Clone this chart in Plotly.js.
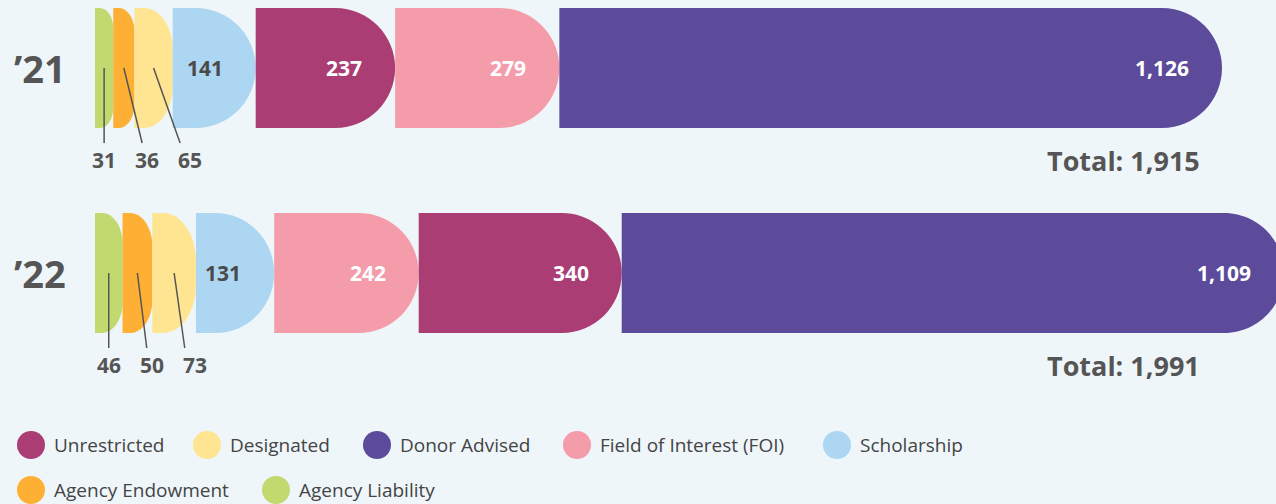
<!DOCTYPE html>
<html><head><meta charset="utf-8">
<script src="https://cdn.plot.ly/plotly-3.0.1.min.js"></script>
<style>html,body{margin:0;padding:0;background:#EFF6FA;overflow:hidden}#chart{width:1276px;height:504px}</style>
</head><body><div id="chart"></div>
<script>
// ---- data ----
const categories = ['Unrestricted','Designated','Donor Advised','Field of Interest (FOI)','Scholarship','Agency Endowment','Agency Liability'];
const years = ['\u201921','\u201922'];
const values2021 = [237, 65, 1126, 279, 141, 36, 31];
const values2022 = [340, 73, 1109, 242, 131, 50, 46];

// ---- styles ----
const colors = ['#AA3D74','#FFE592','#5C4B9A','#F59CAB','#ACD6F1','#FDB034','#C1D96E'];
const insideTextColors = ['#FFFFFF','#4A4A4A','#FFFFFF','#FFFFFF','#4A4A4A','#4A4A4A','#4A4A4A'];
const W = 1276, H = 504;
const baseX = 95;                 // px where bars start
const rowEndPx = [1222, 1284];    // px where each stacked row ends
const rowTop = [8, 213];
const barH = 120;
const legendPos = [[31,445],[207,445],[377,445],[577,445],[837,445],[31,490],[276,490]];
const darkText = '#555555';
const FONT = 'Open Sans, Noto Sans, sans-serif';

const rows = [values2021, values2022];
const axisNames = ['x','x2'];
const fmt = v => v.toLocaleString('en-US');

const shapes = [], annotations = [], traces = [];
const layoutAxes = {};

rows.forEach((vals, r) => {
  const total = vals.reduce((a,b)=>a+b,0);
  const s = (rowEndPx[r] - baseX) / total;          // px per unit
  const axKey = r === 0 ? 'xaxis' : 'xaxis2';
  layoutAxes[axKey] = {range:[-baseX/s, (W-baseX)/s], visible:false, fixedrange:true};
  if (r === 1) layoutAxes[axKey].overlaying = 'x';
  const xref = axisNames[r];
  const T = rowTop[r], B = rowTop[r] + barH, C = rowTop[r] + barH/2;
  const order = vals.map((v,i)=>i).sort((a,b)=>vals[a]-vals[b]);
  let cum = 0;
  const ends = [], texts = [];
  let smallIdx = 0, firstLineX = null;
  order.forEach(i => {
    const x0 = cum, x1 = cum + vals[i];
    cum = x1;
    ends.push(x1); texts.push(categories[i] + ': ' + fmt(vals[i]));
    const wpx = vals[i] * s;
    const rh = Math.min(barH/2, 0.75*wpx) / s;      // horizontal corner radius (data units)
    const rv = Math.min(barH/2, 1.1*wpx);            // vertical corner radius (px = y data)
    const k = 0.5523;
    const path = `M${x0},${T} L${x1-rh},${T} C${x1-rh+k*rh},${T} ${x1},${T+rv-k*rv} ${x1},${T+rv} ` +
                 `L${x1},${B-rv} C${x1},${B-rv+k*rv} ${x1-rh+k*rh},${B} ${x1-rh},${B} L${x0},${B} Z`;
    shapes.push({type:'path', xref, yref:'y', path, fillcolor:colors[i], line:{width:0}, layer:'below'});
    if (vals[i] >= 100) {
      annotations.push({xref, yref:'y', x: x1 - 31/s, y: C, xanchor:'right', yanchor:'middle',
        text: fmt(vals[i]), showarrow:false,
        font:{family:FONT, size:21, color:insideTextColors[i], weight:700}});
    } else {
      const lx = x0 + 0.5*(x1-x0);
      if (firstLineX === null) firstLineX = lx;
      const endX = firstLineX + smallIdx*38/s;
      const labX = firstLineX + smallIdx*43/s;
      shapes.push({type:'line', xref, yref:'y', x0: lx, y0: C, x1: endX, y1: B + 15,
        line:{color:'#555555', width:1.5}});
      annotations.push({xref, yref:'y', x: labX, y: B + 32, xanchor:'center', yanchor:'middle',
        text: fmt(vals[i]), showarrow:false, font:{family:FONT, size:21, color:darkText, weight:700}});
      smallIdx++;
    }
  });
  traces.push({type:'scatter', mode:'markers', x: ends, y: ends.map(()=>C), xaxis: xref, yaxis:'y',
    marker:{opacity:0}, text: texts, hoverinfo:'text', showlegend:false});
  // year label
  annotations.push({xref:'paper', yref:'y', x: 40/W, y: C, xanchor:'center', yanchor:'middle',
    text: years[r], showarrow:false, font:{family:FONT, size:38, color:darkText, weight:700}});
  // total
  annotations.push({xref:'paper', yref:'y', x: 1202/W, y: B + 32, xanchor:'right', yanchor:'middle',
    text: 'Total: ' + fmt(total), showarrow:false, font:{family:FONT, size:27, color:darkText, weight:700}});
});

// legend
categories.forEach((c, i) => {
  const [cx, cy] = legendPos[i];
  shapes.push({type:'circle', xref:'paper', yref:'y', xsizemode:'pixel', xanchor: cx/W,
    x0:-14, x1:14, y0: cy-14, y1: cy+14, fillcolor: colors[i], line:{width:0}});
  annotations.push({xref:'paper', yref:'y', x:(cx+21)/W, y: cy, xanchor:'left', yanchor:'middle',
    text: c, showarrow:false, font:{family:FONT, size:19, color:'#444444'}});
});

const layout = Object.assign({
  width: W, height: H,
  margin:{l:0,r:0,t:0,b:0,pad:0},
  paper_bgcolor:'#EFF6FA', plot_bgcolor:'#EFF6FA',
  yaxis:{range:[H,0], visible:false, fixedrange:true},
  showlegend:false,
  shapes, annotations
}, layoutAxes);

Plotly.newPlot('chart', traces, layout, {staticPlot:true, displayModeBar:false});
</script></body></html>
